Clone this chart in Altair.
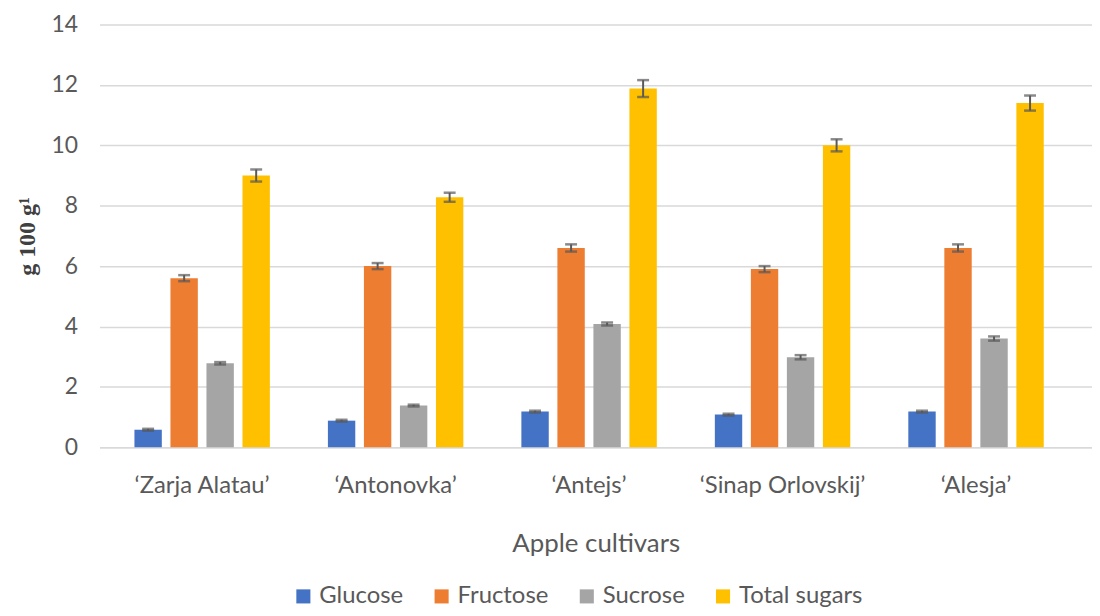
import altair as alt
import pandas as pd

cultivars = ["‘Zarja Alatau’", "‘Antonovka’", "‘Antejs’", "‘Sinap Orlovskij’", "‘Alesja’"]
sugars = ["Glucose", "Fructose", "Sucrose", "Total sugars"]
colors = ["#4472C4", "#ED7D31", "#A5A5A5", "#FFC000"]

glucose = [0.58, 0.88, 1.18, 1.08, 1.18]
fructose = [5.6, 6.0, 6.6, 5.9, 6.6]
sucrose = [2.78, 1.38, 4.08, 2.98, 3.6]
total = [9.0, 8.28, 11.88, 10.0, 11.4]

glucose_err = [0.03, 0.03, 0.03, 0.03, 0.03]
fructose_err = [0.1, 0.1, 0.12, 0.1, 0.12]
sucrose_err = [0.04, 0.03, 0.05, 0.07, 0.07]
total_err = [0.2, 0.15, 0.28, 0.2, 0.25]

rows = []
for s, vals, errs in zip(sugars, [glucose, fructose, sucrose, total],
                         [glucose_err, fructose_err, sucrose_err, total_err]):
    for c, v, e in zip(cultivars, vals, errs):
        rows.append({"cultivar": c, "sugar": s, "value": v, "lo": v - e, "hi": v + e})
df = pd.DataFrame(rows)

font = "Lato"
x = alt.X("cultivar:N", sort=cultivars,
          scale=alt.Scale(paddingInner=0.3, paddingOuter=0.215, align=0.42),
          axis=alt.Axis(title="Apple cultivars", labelAngle=0, labelFontSize=24,
                        labelColor="#595959", labelFont=font, titleFont=font,
                        titleFontSize=26, titleFontWeight="normal", titleColor="#595959",
                        titlePadding=33, labelPadding=27, ticks=False,
                        domainColor="#d9d9d9", domainWidth=1.5))
xo = alt.XOffset("sugar:N", sort=sugars, scale=alt.Scale(paddingInner=0.24, paddingOuter=0))

base = alt.Chart(df)

bars = base.mark_bar().encode(
    x=x, xOffset=xo,
    y=alt.Y("value:Q", scale=alt.Scale(domain=[0, 14]),
            axis=alt.Axis(title="g 100 g¹", values=list(range(0, 15, 2)), labelFontSize=23,
                          labelColor="#595959", labelFont=font, titleFont="Liberation Serif",
                          titleFontSize=24, titleFontWeight="bold", titleColor="#404040",
                          titlePadding=12, labelPadding=22, ticks=False, domain=False,
                          gridColor="#d9d9d9", gridWidth=1.5)),
    color=alt.Color("sugar:N", sort=sugars, scale=alt.Scale(domain=sugars, range=colors),
                    legend=alt.Legend(title=None, orient="none", legendX=193, legendY=563,
                                      direction="horizontal", symbolType="square",
                                      symbolSize=200, symbolStrokeWidth=0,
                                      labelFontSize=24, labelFont=font, labelColor="#595959",
                                      columnPadding=26, labelOffset=4)),
)

rules = base.mark_rule(color="#595959", strokeWidth=2).encode(
    x=x, xOffset=xo, y="lo:Q", y2="hi:Q")
cap_lo = base.mark_tick(color="#595959", thickness=2.5, size=12).encode(
    x=x, xOffset=xo, y="lo:Q")
cap_hi = base.mark_tick(color="#595959", thickness=2.5, size=12).encode(
    x=x, xOffset=xo, y="hi:Q")

chart = alt.layer(bars, rules, cap_lo, cap_hi).properties(
    width=998, height=425,
    autosize=alt.AutoSizeParams(type="none"),
    padding={"left": 92, "top": 15, "right": 0, "bottom": 160},
).configure_view(stroke=None)

chart.save("out.html", embed_options={"renderer": "svg", "actions": False})
